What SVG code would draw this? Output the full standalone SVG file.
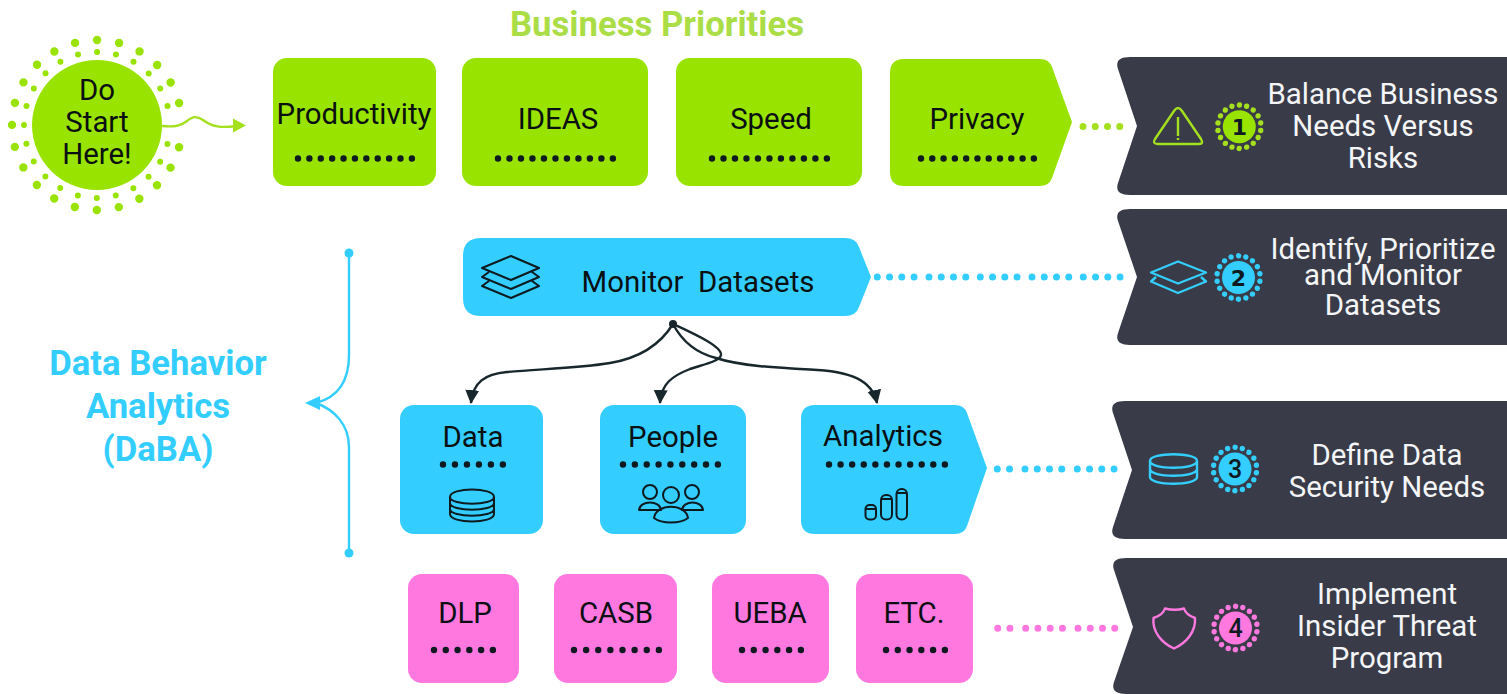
<svg xmlns="http://www.w3.org/2000/svg" width="1507" height="694" viewBox="0 0 1507 694">
<style>
text{font-family:Roboto,"Liberation Sans",sans-serif;text-anchor:middle}
.l{font-size:29.4px;fill:#0a0f12;white-space:pre}
.w{font-size:29.4px;fill:#f4f5f7}
.h{font-size:34.7px;font-weight:700}
.n{font-size:25px;font-weight:700;fill:#0e1a20}
.n1{font-family:"DejaVu Sans",sans-serif;font-size:22px}
.g{fill:#99e300}.b{fill:#33ceff}.p{fill:#ff78e0}.k{fill:#393c48}
.dd{fill:none;stroke:#0e1a20;stroke-width:6.4;stroke-linecap:round;stroke-dasharray:0 1}
.ic{fill:none;stroke:#0e1a20;stroke-width:2;stroke-linejoin:round}
.cg{stroke:#a5e01e}.cb{stroke:#33ceff}.cp{stroke:#ff78e0}
.dot{fill:none;stroke-width:7;stroke-linecap:round;stroke-dasharray:0 12.25}
.ring{fill:none;stroke-width:5.400;stroke-linecap:round;stroke-dasharray:0 1}
.icl{fill:none;stroke-width:2.400;stroke-linejoin:round}
.edge{fill:none;stroke:#17272c;stroke-width:2.400}
</style>
<defs>
<marker id="ah" markerUnits="userSpaceOnUse" markerWidth="16" markerHeight="16" refX="13" refY="7" orient="auto"><path d="M0,0L14,7L0,14Z" fill="#17272c"/></marker>
</defs>

<text class="h" x="657" y="36" fill="#abdd47">Business Priorities</text>
<g id="daba-label"><text class="h" x="158" y="375" fill="#33ceff">Data Behavior</text><text class="h" x="158" y="418" fill="#33ceff">Analytics</text><text class="h" x="158" y="461" fill="#33ceff">(DaBA)</text></g>

<g id="connectors">
<path d="M162,126C175,127 181,126 187,121C193,116 197,116 203,120C212,127 222,128 236,126" fill="none" stroke="#a5e01e" stroke-width="2.400"/>
<path d="M233,118.500L246,125.500L233,132.500Z" fill="#a5e01e"/>
<path d="M349,253V355C349,385 335,398 316,403M349,553V447C349,425 335,410 316,403" fill="none" stroke="#33ceff" stroke-width="2.400"/>
<path d="M305,403L320,396V410Z" fill="#33ceff"/>
<circle cx="349" cy="253" r="4.500" fill="#33ceff"/><circle cx="349" cy="553" r="4.500" fill="#33ceff"/>
<circle cx="673" cy="324" r="4" fill="#17272c"/>
<path class="edge" marker-end="url(#ah)" d="M673,324C660,345 640,358 610,363C580,368 540,369 507,372C485,374 473,382 471,403"/>
<path class="edge" marker-end="url(#ah)" d="M673,324C690,332 722,346 721,355C720,361 705,364 690,369C672,376 661,384 660,403"/>
<path class="edge" marker-end="url(#ah)" d="M673,324C684,345 700,354 716,358C740,366 780,368 810,369.500C850,371 872,380 877,403"/>
<path class="dot cg" d="M1083,126.500H1120.500"/>
<path class="dot cb" d="M877.300,277H914.300"/><path class="dot cb" d="M929,277H966"/><path class="dot cb" d="M980.300,277H1017.300"/><path class="dot cb" d="M1032,277H1069"/><path class="dot cb" d="M1083.300,277H1120.300"/>
<path class="dot cb" d="M997.300,469H1009.700"/><path class="dot cb" d="M1025,469H1062"/><path class="dot cb" d="M1077.300,469H1114.300"/>
<path class="dot cp" d="M997.700,628.300H1010.100"/><path class="dot cp" d="M1025.700,628.300H1062.700"/><path class="dot cp" d="M1078,628.300H1115"/>
</g>

<g id="start">
<path d="M179.100,103A85,85 0 1 0 179.100,147" pathLength="22.010" fill="none" stroke="#99e300" stroke-width="8.400" stroke-linecap="round" stroke-dasharray="0 1"/>
<path d="M167.500,106.100A73,73 0 1 0 167.500,143.900" pathLength="22.010" fill="none" stroke="#99e300" stroke-width="6" stroke-linecap="round" stroke-dasharray="0 1"/>
<circle cx="97" cy="125" r="65" class="g"/>
<text class="l" x="97" y="100">Do</text><text class="l" x="97" y="132">Start</text><text class="l" x="97" y="164">Here!</text>
</g>

<g id="productivity"><rect x="273" y="58" width="163" height="128" rx="14" class="g"/><text class="l" x="354" y="124">Productivity</text><path class="dd" pathLength="10.010" d="M298,158.500H412"/></g>
<g id="ideas"><rect x="462" y="58" width="186" height="128" rx="14" class="g"/><text class="l" x="558" y="129">IDEAS</text><path class="dd" pathLength="10.010" d="M498,158.500H613"/></g>
<g id="speed"><rect x="676" y="58" width="186" height="128" rx="14" class="g"/><text class="l" x="771" y="129">Speed</text><path class="dd" pathLength="10.010" d="M712,158.500H827"/></g>
<g id="privacy"><path d="M904,59H1040Q1049,59 1052,67L1072,122L1052,178Q1049,186 1040,186H904Q890,186 890,172V73Q890,59 904,59Z" class="g"/><text class="l" x="977" y="129">Privacy</text><path class="dd" pathLength="10.010" d="M921,158.500H1034"/></g>

<g id="monitor-datasets"><path d="M481,238H845Q856,238 859,247L871,277L859,307Q856,316 845,316H481Q463,316 463,298V256Q463,238 481,238Z" class="b"/>
<text class="l" x="698" y="292">Monitor  Datasets</text>
<path class="ic" d="M511,256L539,268L511,280L482,268ZM489,272L482,277L511,289L539,277L532,272M489,281L482,286L511,298L539,286L532,281"/></g>

<g id="data"><rect x="400" y="405" width="143" height="129" rx="14" class="b"/><text class="l" x="473" y="447">Data</text><path class="dd" pathLength="5.010" d="M443,464.500H503"/>
<path class="ic" d="M450,497C450,487 494,487 494,497V514C494,524 450,524 450,514ZM450,497C450,506 494,506 494,497M450,503C450,512 494,512 494,503M450,509C450,518 494,518 494,509"/></g>
<g id="people"><rect x="600" y="405" width="146" height="129" rx="14" class="b"/><text class="l" x="673" y="447">People</text><path class="dd" pathLength="8.010" d="M623,464.500H718"/>
<g class="ic"><circle cx="650" cy="492" r="7"/><circle cx="671" cy="495" r="8"/><circle cx="692" cy="492" r="7"/><path d="M639,510C640,500 660,500 661,510Z"/><path d="M682,510C683,500 702,500 703,510Z"/><path d="M654,518C656,503 686,503 688,518C680,524 662,524 654,518Z"/></g></g>
<g id="analytics"><path d="M815,405H955Q964,405 967,413L987,468L967,526Q964,534 955,534H815Q801,534 801,520V419Q801,405 815,405Z" class="b"/><text class="l" x="883" y="446">Analytics</text><path class="dd" pathLength="10.010" d="M829,464.500H945"/>
<g class="ic"><rect x="865.500" y="505" width="10.500" height="14.500" rx="4"/><path d="M865.500,509H876"/><rect x="881" y="495" width="11" height="24.500" rx="5"/><path d="M881,499H892"/><rect x="896.500" y="489" width="10.500" height="30.500" rx="5"/><path d="M896.500,493H907"/></g></g>

<g id="dlp"><rect x="408" y="574" width="111" height="109" rx="14" class="p"/><text class="l" x="465" y="623">DLP</text><path class="dd" pathLength="5.010" d="M434,650H493"/></g>
<g id="casb"><rect x="554" y="574" width="123" height="109" rx="14" class="p"/><text class="l" x="616" y="623">CASB</text><path class="dd" pathLength="7.010" d="M574,650H659"/></g>
<g id="ueba"><rect x="712" y="574" width="117" height="109" rx="14" class="p"/><text class="l" x="770" y="623">UEBA</text><path class="dd" pathLength="5.010" d="M742,650H801"/></g>
<g id="etc"><rect x="856" y="574" width="117" height="109" rx="14" class="p"/><text class="l" x="914" y="623">ETC.</text><path class="dd" pathLength="5.010" d="M886,650H945"/></g>

<g id="step-1"><path class="k" d="M1130,57H1507V195H1130Q1114,195 1118,183L1137,126L1118,69Q1114,57 1130,57Z"/>
<path class="icl cg" d="M1178,108Q1180,108 1182,111L1201,139Q1204,144 1199,144H1158Q1152,144 1155,139L1174,111Q1176,108 1178,108Z"/><path class="icl cg" stroke-width="1.600" d="M1178,117V136M1178,138V140"/>
<circle class="ring cg" stroke="#99e300" cx="1239.300" cy="126.700" r="21.700" pathLength="18" transform="rotate(10 1239.300 126.700)"/><circle cx="1239.300" cy="126.700" r="16.500" class="g"/><text class="n n1" x="1239.300" y="135">1</text>
<text class="w" x="1383" y="104">Balance Business</text><text class="w" x="1383" y="136">Needs Versus</text><text class="w" x="1383" y="168">Risks</text></g>

<g id="step-2"><path class="k" d="M1130,209H1507V345H1130Q1114,345 1118,333L1137,277L1118,221Q1114,209 1130,209Z"/>
<path class="icl cb" d="M1178,261.500L1206,272.500L1178,283.500L1151,272.500ZM1156,277L1151,281.500L1178,293L1206,281.500L1201,277"/>
<circle class="ring cb" cx="1238.500" cy="277.500" r="21.700" pathLength="18" transform="rotate(10 1238.500 277.500)"/><circle cx="1238.500" cy="277.500" r="16.500" class="b"/><text class="n n1" x="1238.500" y="285.500">2</text>
<text class="w" x="1383" y="259">Identify, Prioritize</text><text class="w" x="1383" y="285">and Monitor</text><text class="w" x="1383" y="315">Datasets</text></g>

<g id="step-3"><path class="k" d="M1125,401H1507V539H1125Q1109,539 1113,527L1132,470L1113,413Q1109,401 1125,401Z"/>
<path class="icl cb" d="M1150,461C1150,452 1197,452 1197,461V477C1197,486 1150,486 1150,477ZM1150,461C1150,470 1197,470 1197,461M1150,469C1150,478 1197,478 1197,469"/>
<circle class="ring cb" cx="1235" cy="469" r="21.700" pathLength="18" transform="rotate(10 1235 469)"/><circle cx="1235" cy="469" r="16.500" class="b"/><text class="n" x="1235" y="478" style="font-weight:500">3</text>
<text class="w" x="1387" y="465">Define Data</text><text class="w" x="1387" y="497">Security Needs</text></g>

<g id="step-4"><path class="k" d="M1126,558H1507V694H1126Q1110,694 1114,682L1133,627L1114,570Q1110,558 1126,558Z"/>
<path class="icl cp" d="M1165,608.500Q1175,611 1184,608.500Q1186,615 1195,618C1196,632 1186,643 1174,648.500C1162,643 1152,632 1153.500,618Q1163,615 1165,608.500Z"/>
<circle class="ring cp" cx="1235.500" cy="628" r="21.700" pathLength="18" transform="rotate(10 1235.500 628)"/><circle cx="1235.500" cy="628" r="16.500" class="p"/><text class="n" x="1235.500" y="637" style="font-weight:500">4</text>
<text class="w" x="1387" y="604">Implement</text><text class="w" x="1387" y="636">Insider Threat</text><text class="w" x="1387" y="668">Program</text></g>
</svg>
